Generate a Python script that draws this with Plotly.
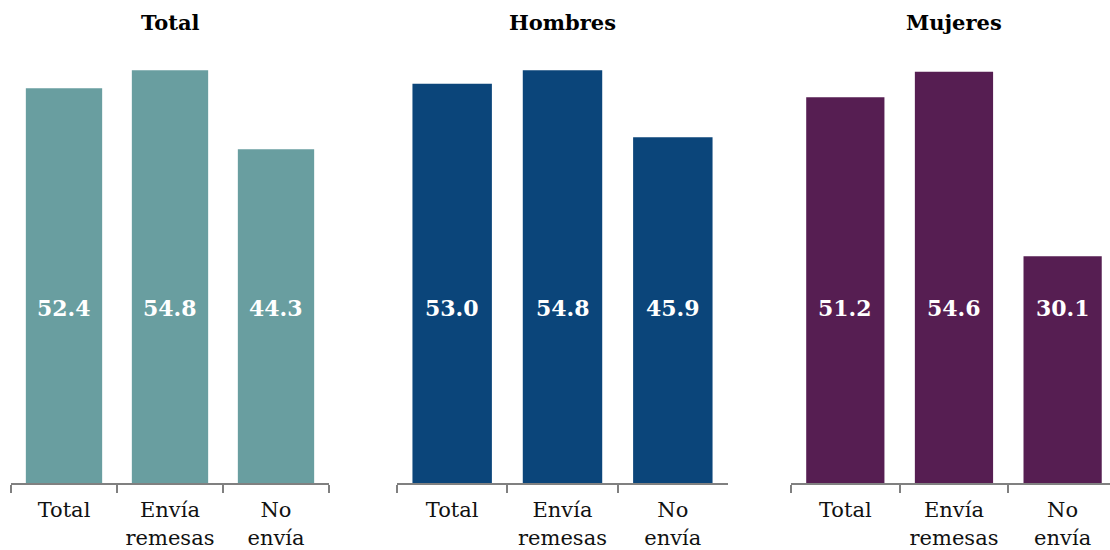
import plotly.graph_objects as go

categories = ["Total", "Envía<br>remesas", "No<br>envía"]
panel_titles = ["Total", "Hombres", "Mujeres"]
values_total = [52.4, 54.8, 44.3]
values_hombres = [53.0, 54.8, 45.9]
values_mujeres = [51.2, 54.6, 30.1]
colors = ["#699EA0", "#0B457A", "#561E52"]

LABEL_Y = 23.2
FONT = "DejaVu Serif"

series = [values_total, values_hombres, values_mujeres]
domains = [[11/1110, 329/1110], [397/1110, 728/1110], [791/1110, 1.0]]
xranges = [[-0.5, 2.5], [-0.5, 2.5], [-0.5, 2.436]]

fig = go.Figure()
annotations = []
for i, (vals, col) in enumerate(zip(series, colors)):
    sfx = "" if i == 0 else str(i + 1)
    fig.add_trace(go.Bar(
        x=categories, y=vals, marker=dict(color=col, line=dict(width=0)),
        width=0.72, xaxis="x" + sfx, yaxis="y" + sfx, showlegend=False,
        hoverinfo="x+y",
    ))
    for c, v in zip(categories, vals):
        annotations.append(dict(
            x=c, y=LABEL_Y, xref="x" + sfx, yref="y" + sfx, text=f"<b>{v:.1f}</b>",
            showarrow=False, font=dict(family=FONT, size=22, color="white"),
            xanchor="center", yanchor="middle",
        ))
    d = domains[i]
    center = (d[0] + d[1]) / 2 if i < 2 else 954 / 1110
    annotations.append(dict(
        x=center, y=1.02, xref="paper", yref="paper", text=f"<b>{panel_titles[i]}</b>",
        showarrow=False, font=dict(family=FONT, size=21, color="black"),
        xanchor="center", yanchor="middle", yshift=-1,
    ))
    fig.layout["xaxis" + sfx] = dict(
        domain=d, anchor="y" + sfx, range=xranges[i], type="category",
        showline=True, linecolor="#808080", linewidth=2,
        ticks="outside", tickson="boundaries", ticklen=8, tickwidth=2, tickcolor="#808080",
        showgrid=False, zeroline=False, fixedrange=True, automargin=False,
        ticklabelstandoff=7,
        tickfont=dict(family=FONT, size=21, color="#111111"),
    )
    fig.layout["yaxis" + sfx] = dict(
        domain=[0, 1], anchor="x" + sfx, range=[0, 60], visible=False,
        showgrid=False, zeroline=False, fixedrange=True, automargin=False,
    )

fig.update_layout(
    width=1110, height=550,
    margin=dict(l=0, r=0, t=31, b=67),
    paper_bgcolor="white", plot_bgcolor="white",
    annotations=annotations, bargap=0.28,
)
fig.write_html(
    "out.html",
    config={"displayModeBar": False},
    post_script="document.body.style.margin='0';document.body.style.overflow='hidden';",
)
